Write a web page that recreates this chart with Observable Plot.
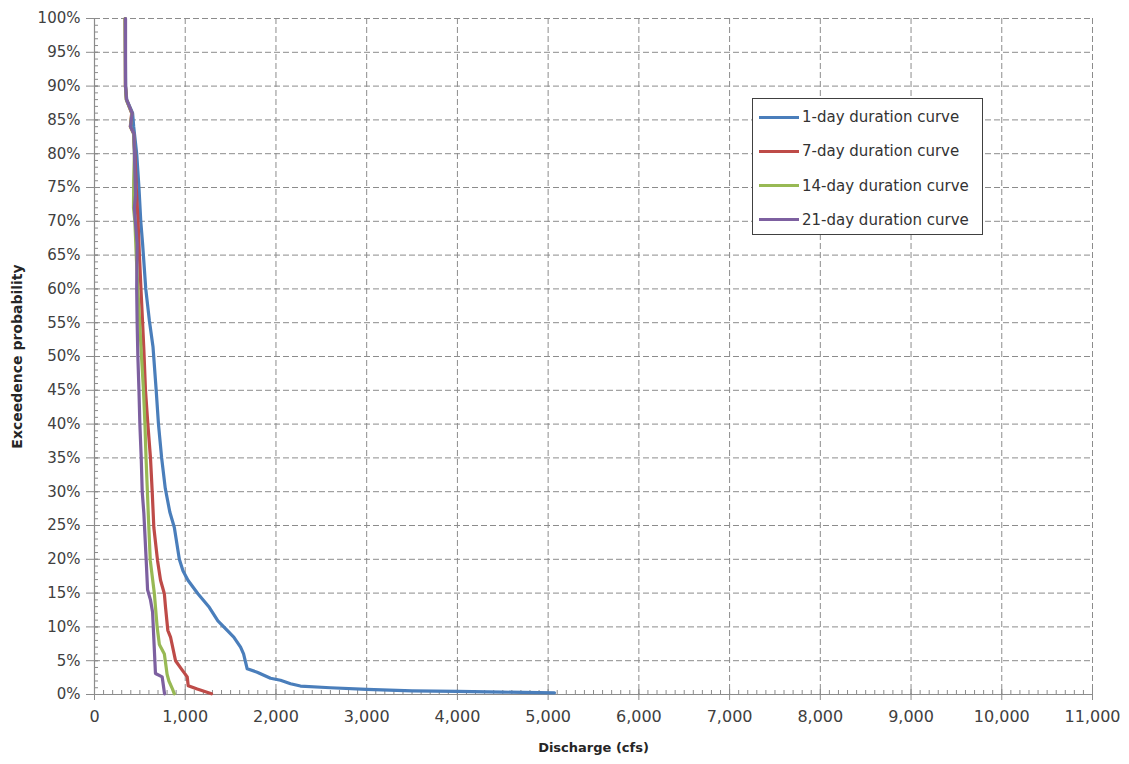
<!DOCTYPE html>
<html>
<head>
<meta charset="utf-8">
<script src="https://cdn.jsdelivr.net/npm/d3@7"></script>
<script src="https://cdn.jsdelivr.net/npm/@observablehq/plot@0.6"></script>
<style>
  html, body { margin: 0; padding: 0; background: #fff; }
  #wrap { position: relative; width: 1129px; height: 764px; }
  g[aria-label="x-axis label"] text { font-weight: bold; font-size: 13px; fill: #262626; }
  g[aria-label="y-axis label"] text { font-weight: bold; font-size: 14px; fill: #262626; }
  #legend { position: absolute; left: 752px; top: 98px; width: 231px; height: 137px;
    border: 1.5px solid #404040; background: #fff; box-sizing: border-box;
    font-family: "DejaVu Sans", sans-serif; font-size: 15px; color: #333; }
  .row { position: absolute; left: 6px; height: 20px; display: flex; align-items: center; }
  .sw { width: 40px; height: 3px; margin-right: 3px; }
</style>
</head>
<body>
<div id="wrap"></div>
<script>
// Series names and colours
const seriesNames = ["1-day duration curve", "7-day duration curve", "14-day duration curve", "21-day duration curve"];
const seriesColors = ["#4A7EBB", "#BE4B48", "#98B954", "#7D60A0"];

// Exceedence probability (%) and discharge (cfs) for each curve
const oneDayProb = [100, 95, 90, 88, 86, 84, 80, 75, 70, 66.7, 60, 55.3, 51.4, 45, 40, 35, 30.5, 27, 24.7, 20, 18.3, 16.9, 14.9, 12.9, 10.9, 10, 8.5, 7, 6, 3.8, 3.3, 2.4, 2.1, 1.6, 1.25, 1.0, 0.75, 0.55, 0.45, 0.35, 0.25];
const oneDayQ    = [338, 340, 343, 355, 420, 432, 465, 490, 510, 530, 565, 605, 645, 680, 705, 740, 780, 830, 880, 935, 975, 1030, 1140, 1265, 1360, 1425, 1535, 1610, 1643, 1683, 1793, 1940, 2050, 2161, 2270, 2600, 3000, 3500, 4000, 4500, 5070];

const sevenDayProb = [100, 95, 90, 88, 86, 84, 83, 80, 75, 70, 65, 60, 55, 51, 45, 40, 35, 30, 24.7, 19.8, 16.9, 14.9, 12.9, 9.5, 8.5, 5, 3.6, 2.6, 1.3, 0.8, 0.1];
const sevenDayQ    = [338, 340, 341, 352, 410, 395, 430, 445, 460, 480, 495, 512, 530, 544, 562, 588, 617, 636, 654, 695, 728, 770, 783, 808, 838, 893, 967, 1022, 1033, 1132, 1290];

const fourteenDayProb = [100, 95, 90, 88, 86, 84, 83, 80, 76, 72, 70, 65, 60, 55, 50, 45, 40, 35, 30, 25, 19.8, 14.9, 9.9, 7.4, 6, 3, 2, 0.8, 0.1];
const fourteenDayQ    = [338, 340, 341, 350, 412, 396, 430, 440, 432, 430, 445, 460, 478, 498, 518, 540, 556, 568, 583, 598, 615, 660, 691, 715, 770, 800, 820, 860, 880];

const twentyOneDayProb = [100, 95, 90, 88, 86, 84, 83, 80, 74, 72, 70, 66.7, 60, 55, 50, 45, 40, 35, 30, 26.8, 19.8, 15.5, 14, 12.2, 3.1, 2.6, 0.1];
const twentyOneDayQ    = [342, 342, 342, 353, 415, 397, 434, 440, 452, 440, 450, 470, 465, 470, 478, 490, 500, 515, 526, 544, 570, 585, 617, 640, 672, 746, 772];

// Axis ticks
const xTicks = d3.range(0, 11001, 1000);
const xMinor = d3.range(0, 11001, 100);
const yTicks = d3.range(0, 101, 5);
const yMinor = d3.range(0, 101, 1);

const probs = [oneDayProb, sevenDayProb, fourteenDayProb, twentyOneDayProb];
const flows = [oneDayQ, sevenDayQ, fourteenDayQ, twentyOneDayQ];
const table = seriesNames.flatMap((s, i) => probs[i].map((p, j) => ({series: s, p, q: flows[i][j]})));

const gridStyle = {stroke: "#8c8c8c", strokeDasharray: "6,3", strokeWidth: 1};
const axisColor = "#8c8c8c";

const chart = Plot.plot({
  width: 1129,
  height: 764,
  marginLeft: 94,
  marginRight: 37,
  marginTop: 18,
  marginBottom: 70,
  style: {fontFamily: "DejaVu Sans, sans-serif", fontSize: "15px", color: "#404040", background: "#fff", overflow: "visible"},
  x: {domain: [0, 11000]},
  y: {domain: [0, 100]},
  color: {domain: seriesNames, range: seriesColors},
  marks: [
    Plot.ruleY(yTicks.filter(d => d > 0), gridStyle),
    Plot.ruleX(xTicks.filter(d => d > 0), gridStyle),
    Plot.ruleX([0], {stroke: axisColor, strokeWidth: 1.2}),
    Plot.ruleY([0], {stroke: axisColor, strokeWidth: 1.2}),
    // minor ticks (shifted inside the frame)
    Plot.axisY({ticks: yMinor, tickSize: 4, dx: 4, tickFormat: () => "", label: null, stroke: axisColor}),
    Plot.axisX({ticks: xMinor, tickSize: 4, dy: -4, tickFormat: () => "", label: null, stroke: axisColor}),
    // major ticks with labels
    Plot.axisY({ticks: yTicks, tickSize: 12, dx: 4, tickPadding: 6, tickFormat: d => d + "%", stroke: axisColor,
      label: "Exceedence probability", labelAnchor: "center", labelOffset: 82, labelArrow: "none"}),
    Plot.axisX({ticks: xTicks, tickSize: 11, dy: -5, tickPadding: 10, tickFormat: d3.format(","), stroke: axisColor, fontSize: 16,
      label: "Discharge (cfs)", labelAnchor: "center", labelOffset: 57, labelArrow: "none"}),
    Plot.line(table, {x: "q", y: "p", z: "series", stroke: "series", strokeWidth: 3.2, strokeLinejoin: "round"})
  ]
});

const wrap = document.getElementById("wrap");
wrap.appendChild(chart);

// Legend overlay
const legend = document.createElement("div");
legend.id = "legend";
seriesNames.forEach((name, i) => {
  const row = document.createElement("div");
  row.className = "row";
  row.style.top = (8 + i * 34.3) + "px";
  const sw = document.createElement("div");
  sw.className = "sw";
  sw.style.background = seriesColors[i];
  const t = document.createElement("span");
  t.textContent = name;
  row.appendChild(sw);
  row.appendChild(t);
  legend.appendChild(row);
});
wrap.appendChild(legend);
</script>
</body>
</html>
